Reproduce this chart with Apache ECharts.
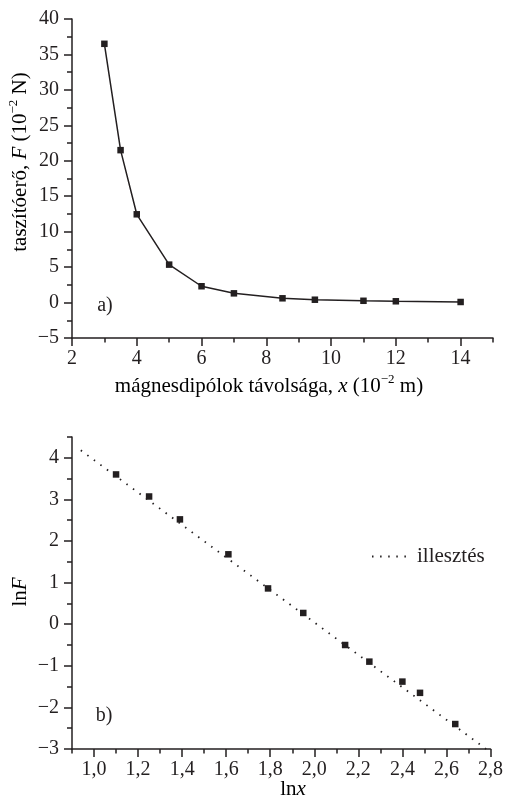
<!DOCTYPE html>
<html>
<head>
<meta charset="utf-8">
<script src="https://cdn.jsdelivr.net/npm/echarts@6/dist/echarts.min.js"></script>
<style>
html,body{margin:0;padding:0;background:#fff;}
#c{width:506px;height:804px;}
</style>
</head>
<body>
<div id="c"></div>
<script>
// ---- data ----
const xDist = [3, 3.5, 4, 5, 6, 7, 8.5, 9.5, 11, 12, 14];
const force = [36.5, 21.5, 12.45, 5.35, 2.3, 1.3, 0.6, 0.4, 0.25, 0.18, 0.08];
const lnX = [1.10, 1.25, 1.39, 1.61, 1.79, 1.95, 2.14, 2.25, 2.40, 2.48, 2.64];
const lnF = [3.60, 3.07, 2.52, 1.68, 0.86, 0.27, -0.50, -0.90, -1.38, -1.65, -2.40];
const fitLnX = [0.94, 2.78];
const fitLnF = [4.18, -3.0];

// ---- tick values ----
const topXTicks = [2, 4, 6, 8, 10, 12, 14];
const topXMinor = [3, 5, 7, 9, 11, 13, 15];
const topYTicks = [-5, 0, 5, 10, 15, 20, 25, 30, 35, 40];
const topYMinor = [-2.5, 2.5, 7.5, 12.5, 17.5, 22.5, 27.5, 32.5, 37.5];
const botXTicks = [1.0, 1.2, 1.4, 1.6, 1.8, 2.0, 2.2, 2.4, 2.6, 2.8];
const botXMinor = [0.9, 1.1, 1.3, 1.5, 1.7, 1.9, 2.1, 2.3, 2.5, 2.7];
const botYTicks = [-3, -2, -1, 0, 1, 2, 3, 4];
const botYMinor = [-2.5, -1.5, -0.5, 0.5, 1.5, 2.5, 3.5, 4.5];

const legendName = 'illesztés';

const FONT = '"Liberation Serif", "DejaVu Serif", serif';
const INK = '#231f20';

function minus(v) { return String(v).replace('-', '\u2212'); }
function comma(v) { return Number(v).toFixed(1).replace('.', ','); }

function makeX(gridIndex, min, max, ticks, minor, fmt) {
  return [
    {
      type: 'value', gridIndex: gridIndex, min: min, max: max, position: 'bottom',
      axisLine: { show: true, onZero: false, lineStyle: { color: INK, width: 1.5 } },
      axisTick: { show: true, customValues: ticks, length: 8, inside: false, lineStyle: { color: INK, width: 1.5 } },
      axisLabel: { show: true, customValues: ticks, formatter: fmt, margin: 11,
        fontFamily: FONT, fontSize: 20, color: INK },
      splitLine: { show: false }
    },
    {
      type: 'value', gridIndex: gridIndex, min: min, max: max, position: 'bottom',
      axisLine: { show: false, onZero: false },
      axisTick: { show: true, customValues: minor, length: 4.5, inside: false, lineStyle: { color: INK, width: 1.5 } },
      axisLabel: { show: false },
      splitLine: { show: false }
    }
  ];
}
function makeY(gridIndex, min, max, ticks, minor, fmt) {
  return [
    {
      type: 'value', gridIndex: gridIndex, min: min, max: max, position: 'left',
      axisLine: { show: true, onZero: false, lineStyle: { color: INK, width: 1.5 } },
      axisTick: { show: true, customValues: ticks, length: 8, inside: false, lineStyle: { color: INK, width: 1.5 } },
      axisLabel: { show: true, customValues: ticks, formatter: fmt, margin: 13,
        fontFamily: FONT, fontSize: 20, color: INK },
      splitLine: { show: false }
    },
    {
      type: 'value', gridIndex: gridIndex, min: min, max: max, position: 'left',
      axisLine: { show: false, onZero: false },
      axisTick: { show: true, customValues: minor, length: 5, inside: false, lineStyle: { color: INK, width: 1.5 } },
      axisLabel: { show: false },
      splitLine: { show: false }
    }
  ];
}

const xAxes = [].concat(
  makeX(0, 2, 15, topXTicks, topXMinor, minus),
  makeX(1, 0.9, 2.8, botXTicks, botXMinor, comma)
);
const yAxes = [].concat(
  makeY(0, -5, 40, topYTicks, topYMinor, minus),
  makeY(1, -3, 4.5, botYTicks, botYMinor, minus)
);

const richBase = {
  n: { fontFamily: FONT, fontSize: 21, color: INK, lineHeight: 26 },
  i: { fontFamily: FONT, fontSize: 21, fontStyle: 'italic', color: INK, lineHeight: 26 },
  s: { fontFamily: FONT, fontSize: 13, color: INK, lineHeight: 16, verticalAlign: 'top' }
};

const chart = echarts.init(document.getElementById('c'), null, { renderer: 'canvas' });
chart.setOption({
  animation: false,
  backgroundColor: '#ffffff',
  grid: [
    { left: 72, top: 19, width: 421, height: 319, containLabel: false },
    { left: 72, top: 437, width: 421, height: 312, containLabel: false }
  ],
  xAxis: xAxes,
  yAxis: yAxes,
  legend: {
    show: true,
    data: [legendName],
    left: 366, top: 541,
    itemWidth: 40, itemHeight: 14, itemGap: 6,
    itemStyle: { opacity: 0 },
    textStyle: { fontFamily: FONT, fontSize: 21, color: INK },
    selectedMode: false
  },
  series: [
    {
      type: 'line', xAxisIndex: 0, yAxisIndex: 0,
      data: xDist.map((x, k) => [x, force[k]]),
      symbol: 'rect', symbolSize: 6.5,
      itemStyle: { color: INK, opacity: 1 },
      lineStyle: { color: INK, width: 1.5 },
      z: 3
    },
    {
      type: 'scatter', xAxisIndex: 2, yAxisIndex: 2,
      data: lnX.map((x, k) => [x, lnF[k]]),
      symbol: 'rect', symbolSize: 6.5,
      itemStyle: { color: INK, opacity: 1 },
      z: 4
    },
    {
      name: legendName,
      type: 'line', xAxisIndex: 2, yAxisIndex: 2,
      data: fitLnX.map((x, k) => [x, fitLnF[k]]),
      symbol: 'none',
      lineStyle: { color: INK, width: 1.8, type: [1.5, 6.6], cap: 'butt' },
      itemStyle: { color: INK },
      z: 2
    }
  ],
  graphic: [
    {
      type: 'text', x: 269, y: 386,
      style: {
        text: '{n|mágnesdipólok távolsága, }{i|x}{n| (10}{s|−2}{n| m)}',
        rich: richBase, align: 'center', verticalAlign: 'middle'
      }
    },
    {
      type: 'text', x: 20, y: 162, rotation: Math.PI / 2,
      style: {
        text: '{n|taszítóerő, }{i|F}{n| (10}{s|−2}{n| N)}',
        rich: richBase, align: 'center', verticalAlign: 'middle'
      }
    },
    {
      type: 'text', x: 293, y: 789,
      style: {
        text: '{n|ln}{i|x}',
        rich: richBase, align: 'center', verticalAlign: 'middle'
      }
    },
    {
      type: 'text', x: 20, y: 592, rotation: Math.PI / 2,
      style: {
        text: '{n|ln}{i|F}',
        rich: richBase, align: 'center', verticalAlign: 'middle'
      }
    },
    {
      type: 'text', x: 105, y: 306,
      style: { text: 'a)', fontFamily: FONT, fontSize: 20, fill: INK, align: 'center', verticalAlign: 'middle' }
    },
    {
      type: 'text', x: 104, y: 716,
      style: { text: 'b)', fontFamily: FONT, fontSize: 20, fill: INK, align: 'center', verticalAlign: 'middle' }
    }
  ]
});
</script>
</body>
</html>
